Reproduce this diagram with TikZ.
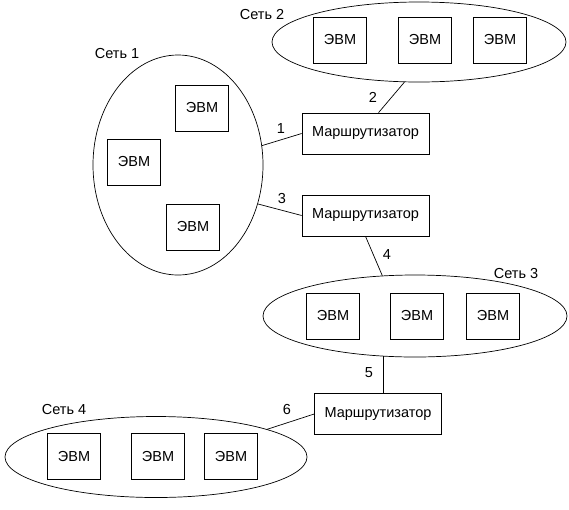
\documentclass[tikz,border=0pt]{standalone}
\usepackage{fontspec}
\setmainfont{Liberation Sans}
\usetikzlibrary{shapes.geometric}

\begin{document}
\begin{tikzpicture}[x=1pt,y=1pt,line width=0.7pt,
  every node/.append style={font=\fontsize{14.5}{17}\selectfont}]
\tikzstyle{every node}+=[inner sep=0pt]
\tikzstyle{evm}=[draw=black,minimum width=53,minimum height=46]
\tikzstyle{router}=[draw=black,minimum width=127,minimum height=41]
\tikzstyle{net}=[draw=black,ellipse]
\useasboundingbox (0,0) rectangle (569,-509);
\node [net,minimum width=170,minimum height=220] (net1) at (178,-165) {};
\node [net,minimum width=294,minimum height=80] (net2) at (419,-42) {};
\node [net,minimum width=304,minimum height=82] (net3) at (415,-316) {};
\node [net,minimum width=302,minimum height=81] (net4) at (156,-457) {};
\draw (117,-54) node (lnet1) {Сеть 1};
\draw (262,-15) node (lnet2) {Сеть 2};
\draw (516,-274) node (lnet3) {Сеть 3};
\draw (64,-409) node (lnet4) {Сеть 4};
\node [evm] (e11) at (202,-108) {ЭВМ};
\node [evm] (e12) at (134,-162) {ЭВМ};
\node [evm] (e13) at (193,-227) {ЭВМ};
\node [evm] (e21) at (340,-40) {ЭВМ};
\node [evm] (e22) at (425,-40) {ЭВМ};
\node [evm] (e23) at (500,-40) {ЭВМ};
\node [evm] (e31) at (333,-316) {ЭВМ};
\node [evm] (e32) at (417,-316) {ЭВМ};
\node [evm] (e33) at (493,-316) {ЭВМ};
\node [evm] (e41) at (74,-456) {ЭВМ};
\node [evm] (e42) at (158,-456) {ЭВМ};
\node [evm] (e43) at (231,-456) {ЭВМ};
\node [router] (r1) at (365.5,-133.5) {Маршрутизатор};
\node [router] (r2) at (365.5,-215.5) {Маршрутизатор};
\node [router] (r3) at (378,-414) {Маршрутизатор};
\draw [black] (net1.13) -- (r1.west);
\draw (281,-129) node (l1) {1};
\draw [black] (net2.-110) -- (r1.58);
\draw (373,-97) node (l2) {2};
\draw [black] (net1.-26) -- (r2.west);
\draw (282,-199) node (l3) {3};
\draw [black] (r2.south) -- (net3.129);
\draw (387,-255) node (l4) {4};
\draw [black] (net3.-128) -- (net3.-128 |- r3.north);
\draw (369,-373) node (l5) {5};
\draw [black] (r3.west) -- (net4.14);
\draw (287,-409) node (l6) {6};
\end{tikzpicture}
\end{document}
